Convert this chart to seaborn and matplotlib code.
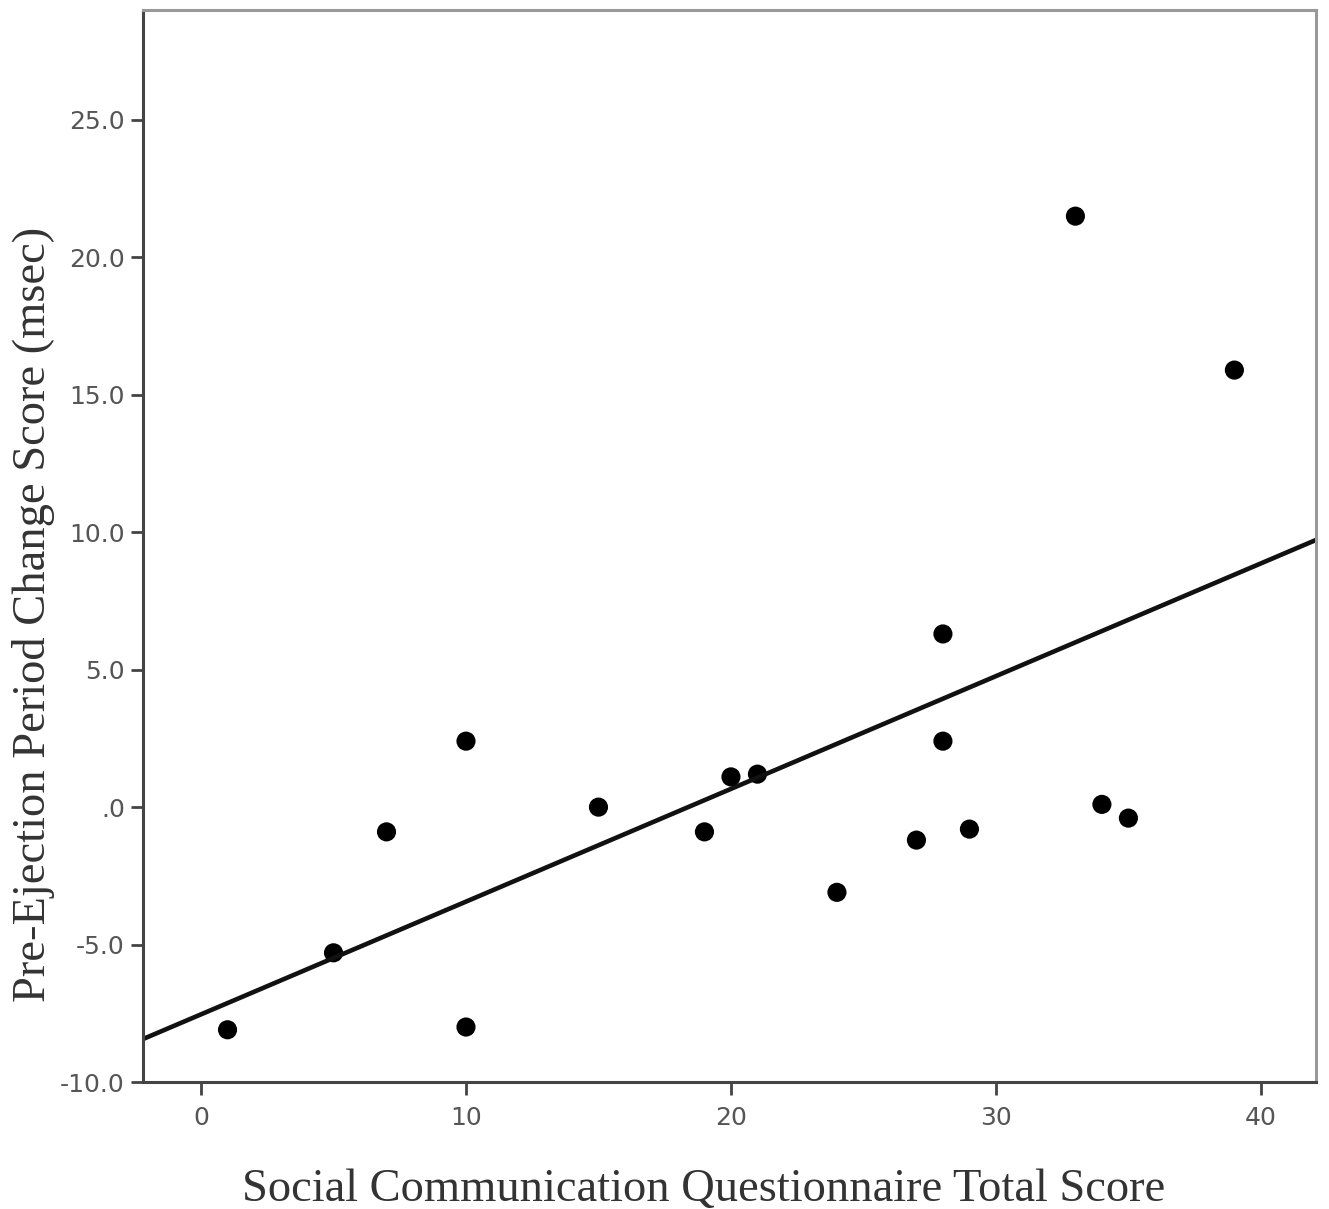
import matplotlib
matplotlib.use("Agg")
import matplotlib.pyplot as plt
import seaborn as sns
import pandas as pd

scq_total = [1, 5, 7, 10, 10, 15, 19, 20, 21, 24, 27, 28, 28, 29, 33, 34, 35, 39]
pep_change = [-8.1, -5.3, -0.9, 2.4, -8.0, 0.0, -0.9, 1.1, 1.2, -3.1, -1.2, 6.3, 2.4, -0.8, 21.5, 0.1, -0.4, 15.9]
x_ticks = [0, 10, 20, 30, 40]
y_ticks = [-10, -5, 0, 5, 10, 15, 20, 25]
y_tick_labels = ["-10.0", "-5.0", ".0", "5.0", "10.0", "15.0", "20.0", "25.0"]

df = pd.DataFrame({"x": scq_total, "y": pep_change})

sns.set_theme(style="white")
fig = plt.figure(figsize=(13.29, 12.09), dpi=100)
ax = fig.add_axes([143 / 1329, 1 - 1082 / 1209, (1316 - 143) / 1329, (1082 - 10) / 1209])
ax.set_xlim(-2.19, 42.08)
ax.set_ylim(-10, 29)

sns.regplot(data=df, x="x", y="y", ax=ax, ci=None, truncate=False,
            scatter_kws=dict(s=190, color="black", edgecolor="none", alpha=1),
            line_kws=dict(color="#111111", lw=3.3))
ax.set_xlim(-2.19, 42.08)
ax.set_ylim(-10, 29)

ax.set_xticks(x_ticks)
ax.set_xticklabels([str(t) for t in x_ticks])
ax.set_yticks(y_ticks)
ax.set_yticklabels(y_tick_labels)
ax.tick_params(axis="both", direction="out", length=9, width=2.0, color="#444444",
               labelsize=18, labelcolor="#555555", pad=4, bottom=True, left=True)
ax.tick_params(axis="x", pad=8)
for lab in ax.get_xticklabels() + ax.get_yticklabels():
    lab.set_family("DejaVu Sans")

for side in ["left", "bottom"]:
    ax.spines[side].set_color("#444444")
    ax.spines[side].set_linewidth(2.2)
for side in ["top", "right"]:
    ax.spines[side].set_color("#999999")
    ax.spines[side].set_linewidth(2.2)

ax.set_xlabel("Social Communication Questionnaire Total Score", family="Liberation Serif",
              fontsize=33.5, color="#333333", labelpad=28)
ax.set_ylabel("Pre-Ejection Period Change Score (msec)", family="Liberation Serif",
              fontsize=33.5, color="#333333", labelpad=4)
ax.xaxis.label.set_x(0.478)
ax.yaxis.label.set_y(0.4366)

fig.savefig("out.png", dpi=100, facecolor="white")
